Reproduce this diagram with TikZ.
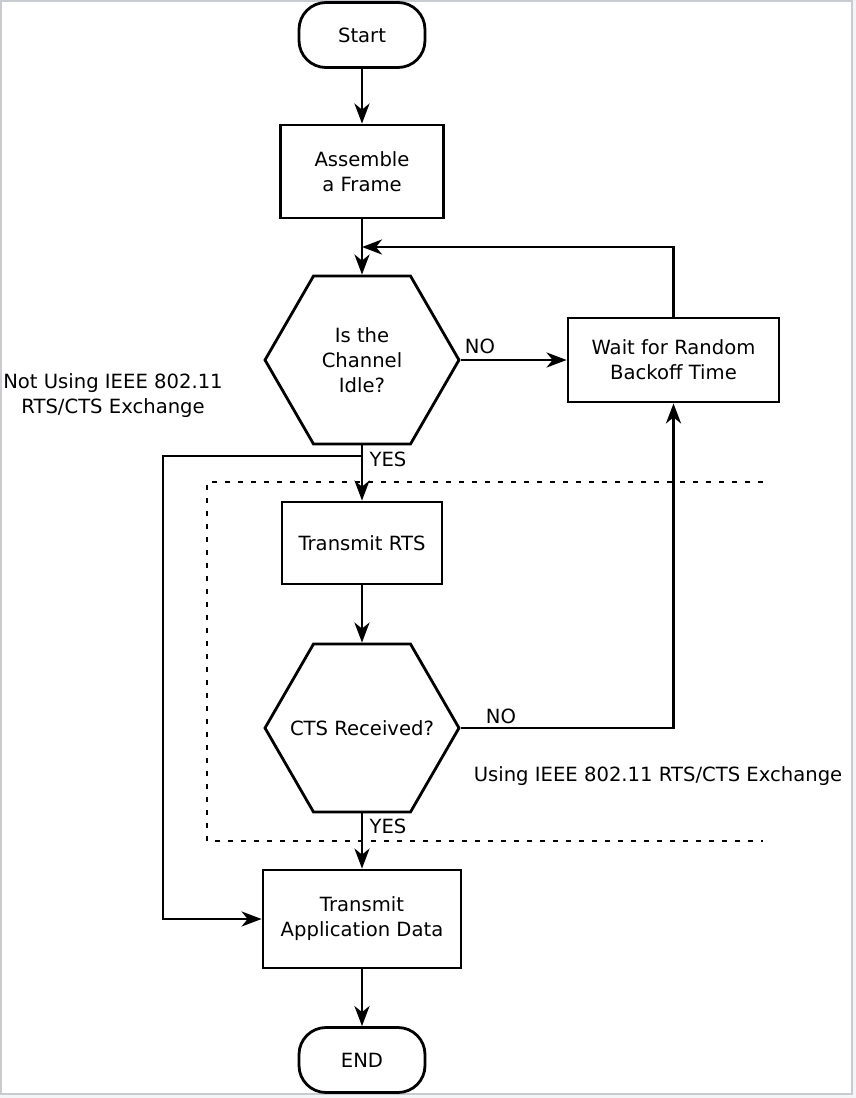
\documentclass[tikz,border=0pt]{standalone}
\usepackage{fontspec}
\setmainfont{DejaVu Sans}
\usetikzlibrary{shapes.geometric,arrows.meta}
\definecolor{framegray}{RGB}{200,204,208}
\definecolor{pagegray}{RGB}{244,245,246}
\begin{document}
\begin{tikzpicture}[x=1pt, y=-1pt,
every node/.style={font=\fontsize{19.6}{25}\selectfont},
term/.style={shape=rectangle, draw=black, line width=2.8pt, rounded corners=27pt, minimum width=126pt, minimum height=65pt},
procbox/.style={shape=rectangle, draw=black, line width=2.8pt, align=center},
decide/.style={shape=regular polygon, regular polygon sides=6, draw=black, line width=2.8pt, minimum size=194pt, inner sep=0pt},
flow/.style={-{Stealth[length=20pt,width=15pt,inset=6pt]}, line width=2.8pt, draw=black},
fence/.style={line width=2.8pt, dash pattern=on 5pt off 8pt, draw=black},
tag/.style={inner sep=0pt, align=center}]
\useasboundingbox (0,0) rectangle (856,1098);
\fill[pagegray] (0,0) rectangle (856,1098);
\draw[framegray, line width=2pt, fill=white] (1,1) rectangle (852,1094);
\draw[fence] (763,482) -- (207,482) -- (207,841) -- (763,841);
\node[term] (start) at (362,35) {Start};
\node[procbox, minimum width=163pt, minimum height=93pt] (frame) at (362,171.5) {Assemble\\a Frame};
\node[decide, label={[align=center]center:Is the\\Channel\\Idle?}] (idle) at (362,360) {};
\node[procbox, minimum width=211pt, minimum height=84pt] (backoff) at (673.5,360) {Wait for Random\\Backoff Time};
\node[procbox, minimum width=160pt, minimum height=82pt] (rts) at (362,543) {Transmit RTS};
\node[decide, label={center:CTS Received?}] (cts) at (362,728) {};
\node[procbox, minimum width=198pt, minimum height=98pt] (data) at (362,919) {Transmit\\Application Data};
\node[term] (end) at (362,1060) {END};
\node[tag] (no1) at (480,346) {NO};
\node[tag] (no2) at (501,716) {NO};
\node[tag] (yes1) at (388,459) {YES};
\node[tag] (yes2) at (388,826) {YES};
\node[tag] (nouse) at (113,396) {Not Using IEEE 802.11\\RTS/CTS Exchange};
\node[tag] (use) at (658,776) {Using IEEE 802.11 RTS/CTS Exchange};
\coordinate (merge) at (362,247);
\coordinate (split) at (362,456);
\coordinate (bypass) at (163,919);
\path (start) edge [flow] (frame);
\path (frame) edge [flow] (idle);
\path (idle.east) edge [flow] (backoff.west);
\path [flow] (backoff.north) |- (merge);
\path (idle) edge [flow] (rts);
\path [flow] (split) -| (bypass) -- (data.west);
\path (rts) edge [flow] (cts);
\path [flow] (cts.east) -| (backoff.south);
\path (cts) edge [flow] (data);
\path (data) edge [flow] (end);
\end{tikzpicture}
\end{document}
